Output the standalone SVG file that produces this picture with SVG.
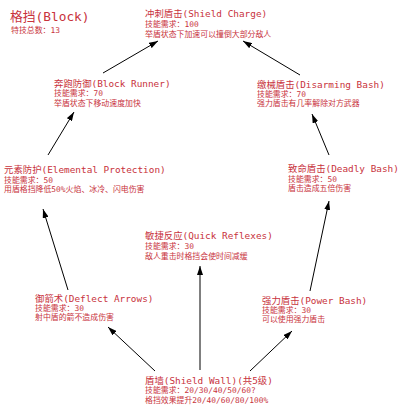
<svg xmlns="http://www.w3.org/2000/svg" width="400" height="410" viewBox="0 0 400 410">
<defs>
<marker id="ah" markerWidth="9" markerHeight="6" refX="9" refY="3" orient="auto" markerUnits="userSpaceOnUse">
<path d="M0,0 L9,3 L0,6 Z" fill="#000"/>
</marker>
<style>
text{font-family:"DejaVu Sans Mono","Noto Sans CJK SC",monospace;fill:#c8323c}
.t{font-size:9.4px}
.s{font-size:7.9px}
.h{font-size:12.8px}
.c line{stroke:#000;stroke-width:1;marker-end:url(#ah)}
</style>
</defs>
<rect width="400" height="410" fill="#fff"/>
<g id="header">
<text class="h" x="10" y="21">格挡(Block)</text>
<text class="s" x="11" y="33">特技总数：13</text>
</g>
<g class="c" id="connectors">
<line x1="155" y1="371" x2="108" y2="327"/>
<line x1="200" y1="370" x2="200" y2="266"/>
<line x1="250" y1="371" x2="292" y2="331"/>
<line x1="68" y1="290" x2="43" y2="209"/>
<line x1="48" y1="155" x2="74" y2="112"/>
<line x1="103" y1="73" x2="158" y2="41"/>
<line x1="300" y1="75" x2="243" y2="41"/>
<line x1="329" y1="155" x2="312" y2="114"/>
<line x1="310" y1="291" x2="329" y2="201"/>
</g>
<g id="shield-charge">
<text class="t" x="145" y="17">冲刺盾击(Shield Charge)</text>
<text class="s" x="145" y="27">技能需求：100</text>
<text class="s" x="145" y="37">举盾状态下加速可以撞倒大部分敌人</text>
</g>
<g id="block-runner">
<text class="t" x="54" y="87">奔跑防御(Block Runner)</text>
<text class="s" x="54" y="96">技能需求：70</text>
<text class="s" x="54" y="106">举盾状态下移动速度加快</text>
</g>
<g id="disarming-bash">
<text class="t" x="257" y="88">缴械盾击(Disarming Bash)</text>
<text class="s" x="257" y="97">技能需求：70</text>
<text class="s" x="257" y="106">强力盾击有几率解除对方武器</text>
</g>
<g id="elemental-protection">
<text class="t" x="4" y="173">元素防护(Elemental Protection)</text>
<text class="s" x="4" y="183">技能需求：50</text>
<text class="s" x="4" y="192">用盾格挡降低50%火焰、冰冷、闪电伤害</text>
</g>
<g id="deadly-bash">
<text class="t" x="288" y="172">致命盾击(Deadly Bash)</text>
<text class="s" x="288" y="182">技能需求：50</text>
<text class="s" x="288" y="191">盾击造成五倍伤害</text>
</g>
<g id="quick-reflexes">
<text class="t" x="145" y="239">敏捷反应(Quick Reflexes)</text>
<text class="s" x="145" y="249">技能需求：30</text>
<text class="s" x="145" y="259">敌人重击时格挡会使时间减缓</text>
</g>
<g id="deflect-arrows">
<text class="t" x="35" y="302">御箭术(Deflect Arrows)</text>
<text class="s" x="35" y="311">技能需求：30</text>
<text class="s" x="35" y="320">射中盾的箭不造成伤害</text>
</g>
<g id="power-bash">
<text class="t" x="262" y="304">强力盾击(Power Bash)</text>
<text class="s" x="262" y="313">技能需求：30</text>
<text class="s" x="262" y="322">可以使用强力盾击</text>
</g>
<g id="shield-wall">
<text class="t" x="145" y="384">盾墙(Shield Wall)(共5级)</text>
<text class="s" x="145" y="393">技能需求：20/30/40/50/60?</text>
<text class="s" x="145" y="403">格挡效果提升20/40/60/80/100%</text>
</g>
</svg>
